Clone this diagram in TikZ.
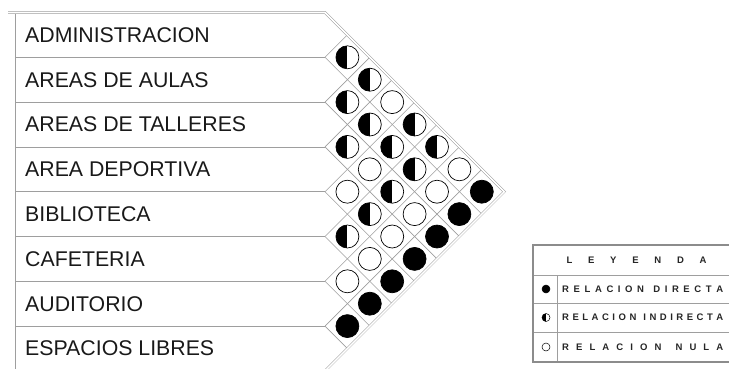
\documentclass[tikz,border=0pt]{standalone}
\usepackage{fontspec}
\setmainfont{Liberation Sans}
\usetikzlibrary{positioning}

\def\h{44.8}
\def\yo{12.5}
\def\xv{325}

\begin{document}
\begin{tikzpicture}[
  x=1pt, y=-1pt,
  rowtext/.style={anchor=west, inner sep=0pt, text=black!90,
    font=\fontsize{21.3}{24}\selectfont},
  lattice/.style={draw=black!38, line width=0.6pt},
  outline/.style={draw=black!38, line width=0.5pt, double=white,
    double distance=1.6pt},
  rel/.style={circle, draw=black, line width=0.7pt, minimum size=23pt,
    inner sep=0pt},
  directa/.style={rel, fill=black},
  indirecta/.style={rel, fill=white, path picture={\fill[black]
    (path picture bounding box.north west) rectangle
    (path picture bounding box.south);}},
  nula/.style={rel, fill=white},
  legline/.style={draw=black!38, line width=0.7pt},
  legframe/.style={draw=black!45, line width=1.3pt},
  legtext/.style={anchor=west, inner sep=0pt, text=black!85,
    font=\fontsize{9.5}{11}\bfseries\selectfont}
]
\useasboundingbox (0,0) rectangle (729,368);
\clip (0,0) rectangle (729,368);

% filas del programa
\foreach \t [count=\k from 0] in {ADMINISTRACION, AREAS DE AULAS,
    AREAS DE TALLERES, AREA DEPORTIVA, BIBLIOTECA, CAFETERIA, AUDITORIO,
    ESPACIOS LIBRES}
  \node[rowtext] (fila\k) at (25,{\yo+(\k+0.5)*\h}) {\t};

\draw[lattice] (15,\yo) -- (15,{\yo+8*\h});
\foreach \b in {1,...,7}
  \draw[lattice] (15,{\yo+\b*\h}) -- (\xv,{\yo+\b*\h});
\foreach \b in {1,...,7} {
  \draw[lattice] (\xv,{\yo+\b*\h}) -- ++({(8-\b)*\h/2},{(8-\b)*\h/2});
  \draw[lattice] (\xv,{\yo+\b*\h}) -- ++({\b*\h/2},{-\b*\h/2});
}
\draw[outline] (8,\yo) -- (\xv,\yo) -- ++({4*\h},{4*\h})
  -- (\xv,{\yo+8*\h});

% matriz de relaciones
\foreach \i/\j/\k in {0/1/indirecta, 0/2/indirecta, 0/3/nula, 0/4/indirecta,
    0/5/indirecta, 0/6/nula, 0/7/directa, 1/2/indirecta, 1/3/indirecta,
    1/4/indirecta, 1/5/indirecta, 1/6/nula, 1/7/directa, 2/3/indirecta,
    2/4/nula, 2/5/indirecta, 2/6/nula, 2/7/directa, 3/4/nula,
    3/5/indirecta, 3/6/nula, 3/7/directa, 4/5/indirecta, 4/6/nula,
    4/7/directa, 5/6/nula, 5/7/directa, 6/7/directa}
  \node[\k] (r\i\j) at ({\xv+(\j-\i)*\h/2},{\yo+(\i+\j+1)*\h/2}) {};

% leyenda
\draw[legline] (533,275) -- (740,275);
\draw[legline] (533,303) -- (740,303);
\draw[legline] (533,332) -- (740,332);
\draw[legline] (557,275) -- (557,362);
\draw[legframe] (533,245) rectangle (740,362);
\node[legtext, anchor=center] (leyenda) at (636.5,260)
  {\makebox[140pt][s]{L E Y E N D A}};
\foreach \y/\k/\t [count=\n] in
    {289/directa/{R E L A C I O N\ \ D I R E C T A},
     317.5/indirecta/{R E L A C I O N\ \ I N D I R E C T A},
     347/nula/{R E L A C I O N\ \ N U L A}} {
  \node[\k, minimum size=8pt, line width=0.5pt] (simb\n) at (546,\y) {};
  \node[legtext] (texto\n) at (562,\y) {\makebox[161pt][s]{\t}};
}
\end{tikzpicture}
\end{document}
